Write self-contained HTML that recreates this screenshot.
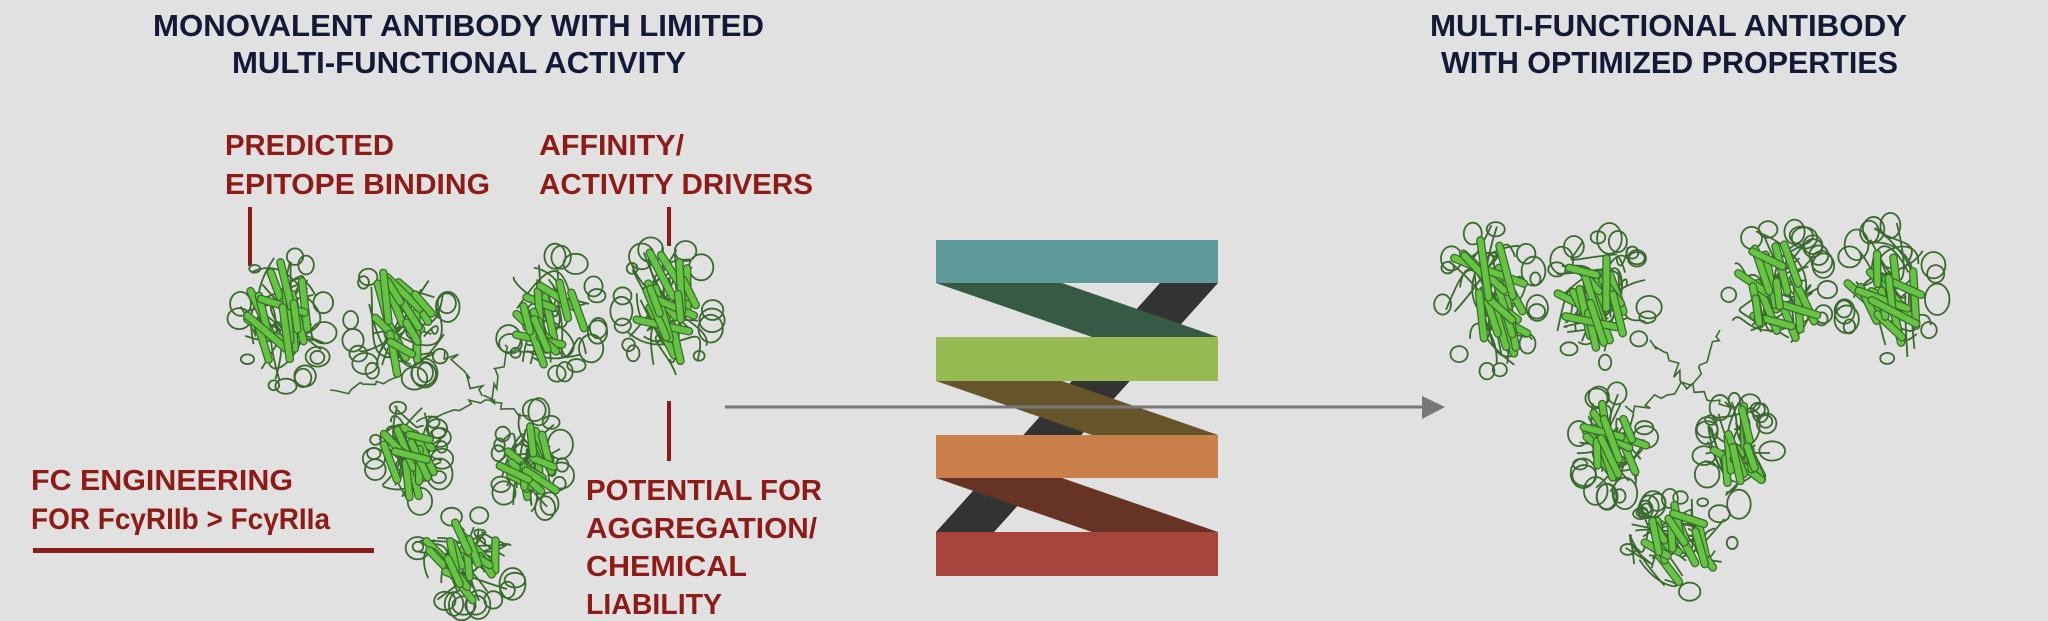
<!DOCTYPE html>
<html><head><meta charset="utf-8"><style>
html,body{margin:0;padding:0;background:#e1e1e1;}
svg{display:block}
text{font-family:"Liberation Sans",sans-serif;font-weight:bold;}
</style></head><body>
<svg id="s" width="2048" height="621" viewBox="0 0 2048 621" xmlns="http://www.w3.org/2000/svg">
<rect width="2048" height="621" fill="#e1e1e1"/>
<g fill="#141937" font-size="31">
<text x="153" y="36" textLength="611" lengthAdjust="spacingAndGlyphs">MONOVALENT ANTIBODY WITH LIMITED</text>
<text x="232" y="73" textLength="454" lengthAdjust="spacingAndGlyphs">MULTI-FUNCTIONAL ACTIVITY</text>
<text x="1430" y="36" textLength="477" lengthAdjust="spacingAndGlyphs">MULTI-FUNCTIONAL ANTIBODY</text>
<text x="1441" y="73" textLength="457" lengthAdjust="spacingAndGlyphs">WITH OPTIMIZED PROPERTIES</text>
</g>
<g fill="#8e1b17" font-size="29">
<text x="225" y="155" textLength="169" lengthAdjust="spacingAndGlyphs">PREDICTED</text>
<text x="225" y="194" textLength="265" lengthAdjust="spacingAndGlyphs">EPITOPE BINDING</text>
<text x="539" y="155" textLength="145" lengthAdjust="spacingAndGlyphs">AFFINITY/</text>
<text x="539" y="194" textLength="274" lengthAdjust="spacingAndGlyphs">ACTIVITY DRIVERS</text>
<text x="31" y="490" textLength="262" lengthAdjust="spacingAndGlyphs">FC ENGINEERING</text>
<text x="31" y="529" textLength="299" lengthAdjust="spacingAndGlyphs" font-size="30">FOR FcγRIIb &gt; FcγRIIa</text>
<text x="586" y="500" textLength="236" lengthAdjust="spacingAndGlyphs">POTENTIAL FOR</text>
<text x="586" y="538" textLength="231" lengthAdjust="spacingAndGlyphs">AGGREGATION/</text>
<text x="586" y="576" textLength="161" lengthAdjust="spacingAndGlyphs">CHEMICAL</text>
<text x="586" y="614" textLength="136" lengthAdjust="spacingAndGlyphs">LIABILITY</text>
</g>
<g fill="#8e1b17">
<rect x="248" y="207" width="4" height="59"/>
<rect x="667" y="207" width="4" height="39"/>
<rect x="667" y="401" width="4" height="60"/>
<rect x="33" y="548" width="341" height="5"/>
</g>
<polygon points="1160,283 1218,283 994,532 936,532" fill="#333333"/>
<polygon points="936,283 1062,283 1218,337 1092,337" fill="#365a44"/>
<polygon points="936,381 1062,381 1218,435 1092,435" fill="#66552a"/>
<polygon points="936,478 1062,478 1218,532 1092,532" fill="#673324"/>
<rect x="936" y="240" width="282" height="43" fill="#5f9a9b"/>
<rect x="936" y="337" width="282" height="44" fill="#95bb52"/>
<rect x="936" y="435" width="282" height="43" fill="#cb7f4b"/>
<rect x="936" y="532" width="282" height="44" fill="#a5453b"/>
<line x1="725" y1="407" x2="1425" y2="407" stroke="#777" stroke-width="3"/>
<polygon points="1422,396 1445,407 1422,419" fill="#777"/>
<g id="prot"></g>
</svg>
<script>
(function(){
var seed=12345;function r(){seed=(seed*16807)%2147483647;return (seed-1)/2147483646;}
var g=document.getElementById('prot');var ns='http://www.w3.org/2000/svg';
function el(n,a){var e=document.createElementNS(ns,n);for(var k in a)e.setAttribute(k,a[k]);g.appendChild(e);return e;}
function pt(cx,cy,rx,ry){var t=r()*6.283,d=Math.sqrt(r());return [cx+Math.cos(t)*rx*d,cy+Math.sin(t)*ry*d];}
function dom(cx,cy,rx,ry){
 var i,p,q,s;
 for(i=0;i<16;i++){p=pt(cx,cy,rx,ry);q=pt(cx,cy,rx,ry);var c1=pt(cx,cy,rx*1.15,ry*1.15),c2=pt(cx,cy,rx*1.15,ry*1.15);
  el('path',{d:'M'+p+' C'+c1+' '+c2+' '+q,fill:'none',stroke:'#3b6a2f','stroke-width':1.8});}
 for(i=0;i<14;i++){var t=r()*6.283;var x=cx+Math.cos(t)*rx*0.95,y=cy+Math.sin(t)*ry*0.95,rr=5+r()*8;
  el('ellipse',{cx:x,cy:y,rx:rr,ry:rr*(0.7+r()*0.6),fill:'none',stroke:'#3b6a2f','stroke-width':1.8});}
 for(i=0;i<16;i++){p=pt(cx,cy,rx*0.55,ry*0.55);var a=(r()<0.6?1.1+r()*0.5:0.2+r()*0.9),L=ry*(0.35+r()*0.45);
  var dx=Math.cos(a)*L*0.5,dy=Math.sin(a)*L*0.5;
  s={d:'M'+(p[0]-dx)+','+(p[1]-dy)+' L'+(p[0]+dx)+','+(p[1]+dy),fill:'none','stroke-linecap':'round'};
  s.stroke='#3a6a2c';s['stroke-width']=8.5;el('path',s);
  s.stroke='#66c443';s['stroke-width']=6;el('path',s);}
}
function hinge(a,b){var d='M'+a;for(var i=1;i<=10;i++){var t=i/10;d+=' L'+(a[0]+(b[0]-a[0])*t+(r()*12-6))+','+(a[1]+(b[1]-a[1])*t+(r()*12-6));}
 el('path',{d:d,fill:'none',stroke:'#3b6a2f','stroke-width':1.6});}
function ab(D,H){H.forEach(function(h){hinge(h[0],h[1]);});D.forEach(function(d){dom(d[0],d[1],d[2],d[3]);});}
ab([[282,320,45,70],[400,322,52,62],[552,315,50,62],[667,310,48,68],[408,455,36,52],[530,462,34,55],[468,560,55,48]],
   [[[445,350],[485,400]],[[505,345],[485,400]],[[485,400],[420,420]],[[485,400],[525,420]],[[330,390],[400,380]]]);
ab([[1490,300,50,75],[1600,300,52,66],[1778,290,52,65],[1890,292,50,70],[1612,445,36,55],[1738,452,36,55],[1680,545,55,50]],
   [[[1650,340],[1690,385]],[[1720,330],[1690,385]],[[1690,385],[1625,410]],[[1690,385],[1735,410]]]);
})();
</script>
</body></html>
